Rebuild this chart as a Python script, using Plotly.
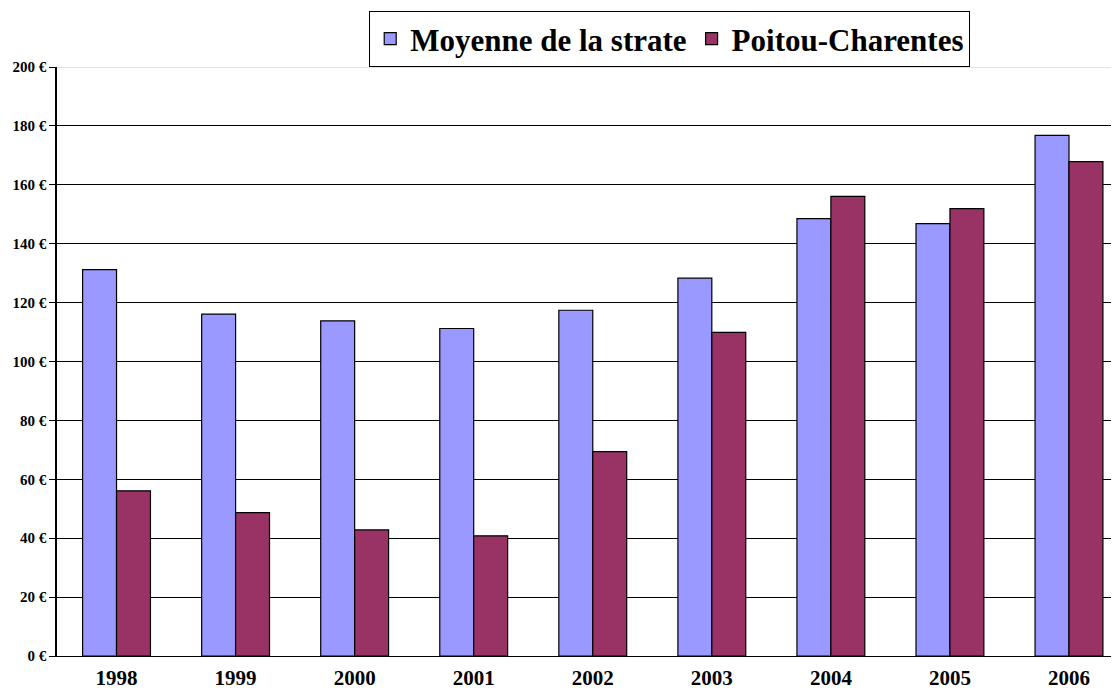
import plotly.graph_objects as go

years = ["1998", "1999", "2000", "2001", "2002", "2003", "2004", "2005", "2006"]
moyenne = [131.2, 116.1, 113.8, 111.2, 117.4, 128.3, 148.5, 146.8, 176.8]
poitou = [56.1, 48.7, 42.8, 40.8, 69.4, 109.9, 156.1, 151.9, 167.9]
y_ticks = [0, 20, 40, 60, 80, 100, 120, 140, 160, 180, 200]
y_labels = [f"{v} €" for v in y_ticks]

SERIF = "Liberation Serif, Times New Roman, serif"

fig = go.Figure()
fig.add_trace(go.Bar(name="Moyenne de la strate", x=years, y=moyenne,
                     marker=dict(color="#9999FF", line=dict(color="black", width=1.2))))
fig.add_trace(go.Bar(name="Poitou-Charentes", x=years, y=poitou,
                     marker=dict(color="#993366", line=dict(color="black", width=1.2))))

fig.update_layout(
    width=1111, height=682,
    margin=dict(l=49, r=0, t=59, b=34, autoexpand=False),
    paper_bgcolor="white", plot_bgcolor="white",
    barmode="group", bargap=0.43, bargroupgap=0,
    font=dict(family=SERIF, color="black"),
    legend=dict(
        orientation="h", x=0.294, xanchor="left", y=1.095, yanchor="top",
        bgcolor="white", bordercolor="black", borderwidth=1,
        font=dict(family=SERIF, size=31, color="black", weight="bold"),
        itemwidth=30,
    ),
    xaxis=dict(
        range=[-0.5, 8.42], showgrid=False, showline=True, linecolor="black", linewidth=1,
        ticks="", tickfont=dict(family=SERIF, size=21, color="black", weight="bold"),
        ticklabelstandoff=3, automargin=False,
    ),
    yaxis=dict(
        range=[0, 200], tickvals=y_ticks, ticktext=y_labels,
        showgrid=True, gridcolor="black", gridwidth=1,
        showline=True, linecolor="black", linewidth=1.5,
        ticks="outside", ticklen=6, tickcolor="black", tickwidth=1,
        tickfont=dict(family=SERIF, size=15, color="black", weight="bold"),
        zeroline=False, automargin=False,
    ),
    shapes=[dict(type="line", xref="paper", yref="y", x0=0, x1=1, y0=200, y1=200,
                 line=dict(color="#d9d9d9", width=1.5), layer="above")],
)

fig.write_html("out.html")
